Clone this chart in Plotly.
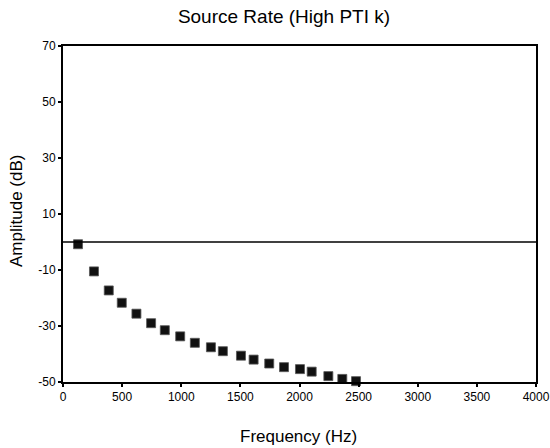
import plotly.graph_objects as go

title_text = "Source Rate (High PTI k)"
x_label = "Frequency (Hz)"
y_label = "Amplitude (dB)"

freq_hz = [127, 262, 387, 497, 621, 745, 861, 991, 1115, 1251,
           1352, 1505, 1612, 1744, 1869, 2004, 2103, 2244, 2362, 2478]
amp_db = [-0.8, -10.5, -17.3, -21.7, -25.6, -29.0, -31.5, -33.7, -36.0, -37.6,
          -39.0, -40.6, -42.0, -43.4, -44.7, -45.4, -46.3, -47.9, -48.9, -49.7]

x_ticks = [0, 500, 1000, 1500, 2000, 2500, 3000, 3500, 4000]
y_ticks = [-50, -30, -10, 10, 30, 50, 70]
ref_level = 0

font_family = "Liberation Sans, Arial, Helvetica, sans-serif"

fig = go.Figure()
fig.add_trace(go.Scatter(
    x=freq_hz, y=amp_db, mode="markers",
    marker=dict(symbol="square", size=9, color="#111111",
                line=dict(color="#555555", width=0.8)),
    cliponaxis=False, showlegend=False,
))

fig.add_shape(type="line", xref="x", yref="y",
              x0=x_ticks[0], x1=x_ticks[-1], y0=ref_level, y1=ref_level,
              line=dict(color="black", width=1.5))

axis_common = dict(
    showgrid=False, zeroline=False, showline=True, linecolor="black", linewidth=2,
    mirror=True, ticks="outside", ticklen=3, tickwidth=2, tickcolor="black",
    tickfont=dict(family=font_family, size=12, color="black"),
    automargin=False,
)

fig.update_xaxes(range=[x_ticks[0], x_ticks[-1]], tickvals=x_ticks,
                 ticktext=[str(v) for v in x_ticks], **axis_common)
fig.update_yaxes(range=[y_ticks[0], y_ticks[-1]], tickvals=y_ticks,
                 ticktext=[str(v) for v in y_ticks], **axis_common)

fig.update_layout(
    width=550, height=448, autosize=False,
    margin=dict(l=63, r=14, t=46, b=66, autoexpand=False),
    paper_bgcolor="white", plot_bgcolor="white",
    font=dict(family=font_family, color="black"),
    title=dict(text=title_text, x=284/550, xanchor="center", y=1 - 16/448,
               yanchor="middle", xref="container", yref="container",
               font=dict(family=font_family, size=19, color="black")),
    annotations=[
        dict(text=x_label, xref="paper", yref="paper", x=0.497, y=-54/336,
             xanchor="center", yanchor="middle", showarrow=False,
             font=dict(family=font_family, size=17, color="black")),
        dict(text=y_label, xref="paper", yref="paper", x=-47/473, y=(382-211)/336,
             xanchor="center", yanchor="middle", showarrow=False, textangle=-90,
             font=dict(family=font_family, size=17, color="black")),
    ],
)

fig.write_html(
    "out.html",
    config={"displayModeBar": False, "responsive": False},
    post_script="document.body.style.margin='0px';document.body.style.overflow='hidden';",
)
